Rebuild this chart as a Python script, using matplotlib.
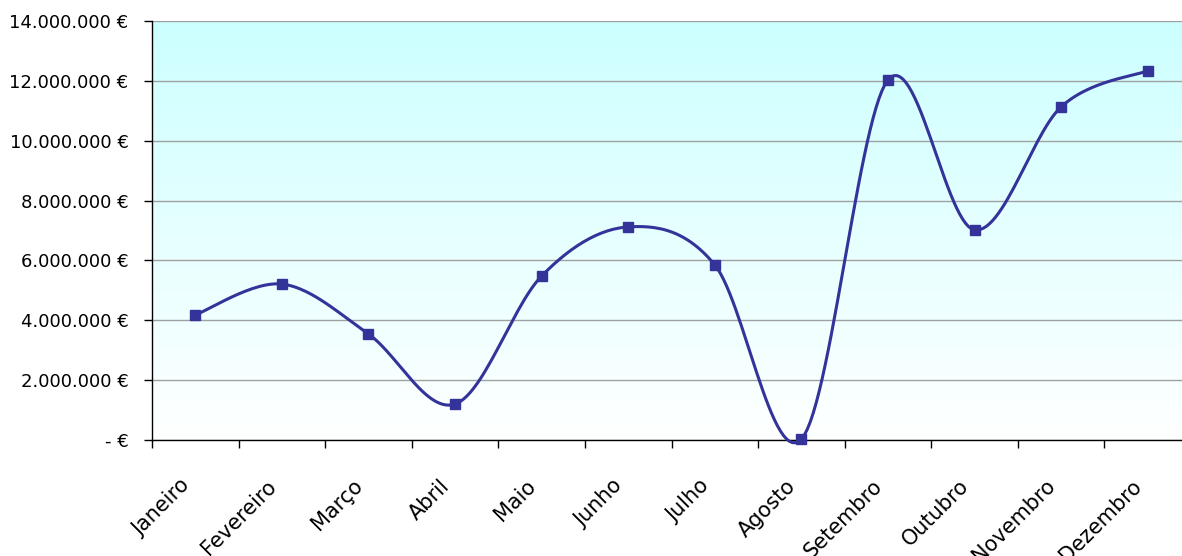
import matplotlib.pyplot as plt
import numpy as np
from matplotlib.colors import LinearSegmentedColormap
from matplotlib.ticker import FuncFormatter
from matplotlib.transforms import ScaledTranslation

meses = ["Janeiro", "Fevereiro", "Março", "Abril", "Maio", "Junho",
         "Julho", "Agosto", "Setembro", "Outubro", "Novembro", "Dezembro"]
valores = [4180000, 5210000, 3540000, 1200000, 5480000, 7120000,
           5850000, 30000, 12030000, 7020000, 11130000, 12340000]
y_ticks = [0, 2000000, 4000000, 6000000, 8000000, 10000000, 12000000, 14000000]

LINE = "#333399"


def euros(v, pos=None):
    if v == 0:
        return "- €"
    return f"{v:,.0f} €".replace(",", ".")


def suavizar(x, y, n=30):
    # Bezier segments with Catmull-Rom control points (Excel style smoothing)
    x = np.asarray(x, float)
    y = np.asarray(y, float)
    px = np.concatenate([[x[0]], x, [x[-1]]])
    py = np.concatenate([[y[0]], y, [y[-1]]])
    xs, ys = [], []
    t = np.linspace(0, 1, n)
    for i in range(1, len(px) - 2):
        p0 = np.array([px[i], py[i]])
        p3 = np.array([px[i + 1], py[i + 1]])
        p1 = p0 + (np.array([px[i + 1], py[i + 1]]) - np.array([px[i - 1], py[i - 1]])) / 6
        p2 = p3 - (np.array([px[i + 2], py[i + 2]]) - np.array([px[i], py[i]])) / 6
        b = ((1 - t) ** 3)[:, None] * p0 + (3 * (1 - t) ** 2 * t)[:, None] * p1 \
            + (3 * (1 - t) * t ** 2)[:, None] * p2 + (t ** 3)[:, None] * p3
        xs.extend(b[:, 0])
        ys.extend(b[:, 1])
    return np.array(xs), np.array(ys)


fig = plt.figure(figsize=(11.82, 5.56), dpi=100)
ax = fig.add_axes([152 / 1182, 116 / 556, 1039 / 1182, 419 / 556])

x = np.arange(len(meses))
ax.set_xlim(-0.5, len(meses) - 0.5)
ax.set_ylim(0, 14000000)

# background gradient, white at the bottom to light cyan at the top
grad = LinearSegmentedColormap.from_list("fundo", ["#FFFFFF", "#CCFFFF"])
ax.imshow(np.linspace(0, 1, 256).reshape(-1, 1), cmap=grad, aspect="auto",
          origin="lower", extent=[0, 1, 0, 1], transform=ax.transAxes, zorder=0)

ax.set_yticks(y_ticks)
ax.yaxis.set_major_formatter(FuncFormatter(euros))
ax.grid(axis="y", color="#A0A0A0", linewidth=1, zorder=1)

xs, ys = suavizar(x, valores)
ax.plot(xs, ys, color=LINE, linewidth=2.2, zorder=3, clip_on=False)
ax.plot(x, valores, linestyle="none", marker="s", markersize=7,
        color=LINE, zorder=4, clip_on=False)

ax.set_xticks(np.arange(-0.5, len(meses), 1))
ax.set_xticklabels([])
ax.set_xticks(x, minor=True)
ax.set_xticklabels(meses, minor=True, rotation=45, ha="right",
                   rotation_mode="anchor", fontsize=15)
ax.tick_params(axis="x", which="minor", length=0, pad=20)
ax.tick_params(axis="x", which="major", length=6, width=1)
ax.tick_params(axis="y", length=6, width=1, labelsize=13, pad=11)

shift = ScaledTranslation(-16 / 100, -8 / 100, fig.dpi_scale_trans)
for lbl in ax.get_xticklabels(minor=True):
    lbl.set_transform(lbl.get_transform() + shift)

for s in ["top", "right"]:
    ax.spines[s].set_visible(False)
for s in ["left", "bottom"]:
    ax.spines[s].set_color("black")
    ax.spines[s].set_linewidth(1)

fig.savefig("out.png", dpi=100)
